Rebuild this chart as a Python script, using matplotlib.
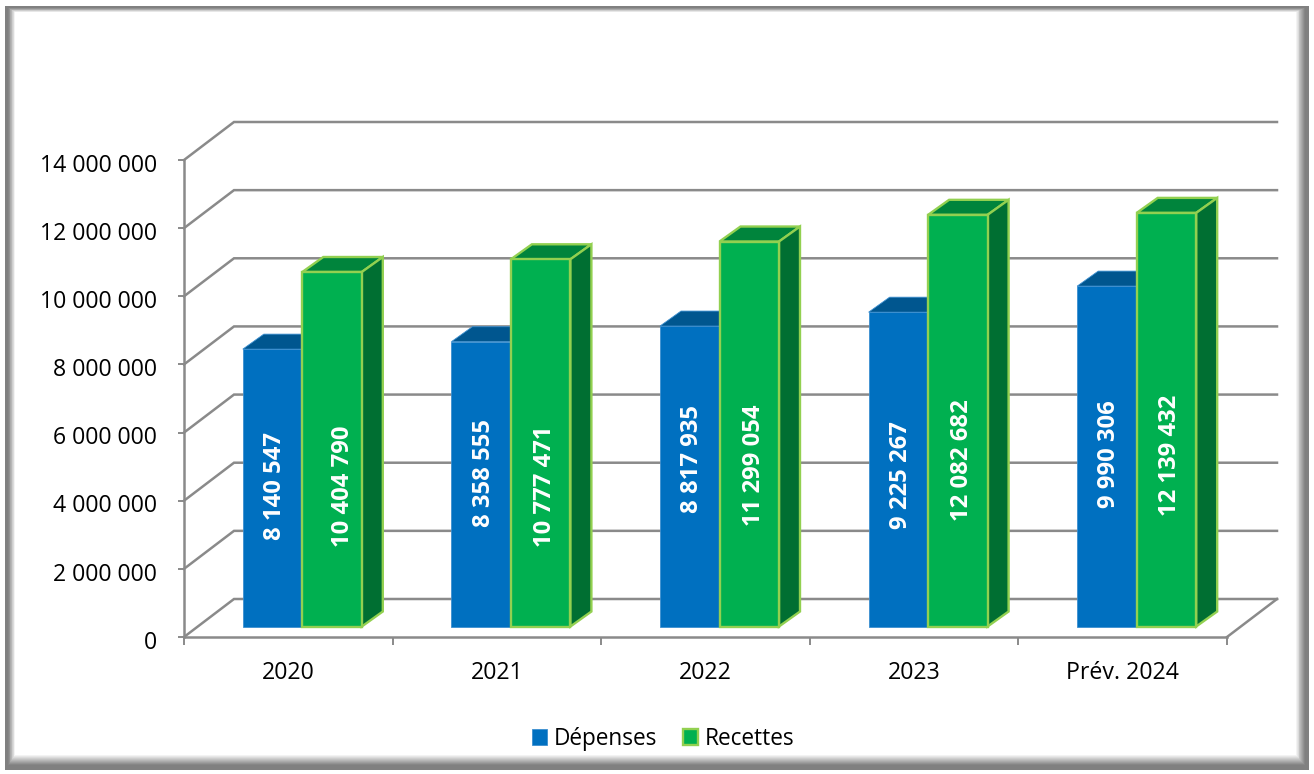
import matplotlib
matplotlib.use("Agg")
import matplotlib.pyplot as plt
from matplotlib.patches import Polygon, Rectangle
from matplotlib.transforms import IdentityTransform, ScaledTranslation

categories = ["2020", "2021", "2022", "2023", "Prév. 2024"]
depenses = [8140547, 8358555, 8817935, 9225267, 9990306]
recettes = [10404790, 10777471, 11299054, 12082682, 12139432]
y_ticks = [0, 2000000, 4000000, 6000000, 8000000, 10000000, 12000000, 14000000]

# where the data labels sit, as a share of the bar height (placed by hand in the original)
dep_label_pos = [0.505, 0.54, 0.557, 0.481, 0.506]
rec_label_pos = [0.395, 0.381, 0.418, 0.405, 0.413]
rec_label_nudge = [8, 2, 2, 2, 1]

W, H = 1314, 774
plt.rcParams["font.family"] = ["Open Sans", "DejaVu Sans"]

# pixel scale of the plot: 0 at y=637, 14M at y=160, categories from x=184 to x=1227
PX_X = (1227 - 184) / 5
PX_Y = (637 - 160) / 14000000
GREY = "#8a8a8a"

fig = plt.figure(figsize=(W / 100, H / 100), dpi=100)
ax = fig.add_axes([0, 0, 1, 1])
ax.set_xlim(-184 / PX_X, (W - 184) / PX_X)
ax.set_ylim(-(H - 637) / PX_Y, 637 / PX_Y)
ax.patch.set_visible(False)

# bevelled frame, outer to inner
steps = 16
for i in range(steps):
    t = i / (steps - 1)
    left = 5 + 10 * t
    right = 1309 - 13 * t
    top = 6 + 6 * t
    bottom = 770 - 15 * t
    g = 0.5 if t < 0.3 else 0.5 + 0.5 * (t - 0.3) / 0.7
    ax.add_patch(Rectangle((left, H - bottom), right - left, bottom - top,
                           transform=IdentityTransform(), facecolor=(g, g, g),
                           edgecolor="none", zorder=0.1))

# depth of the walls and of the bars, in data units
wall_dx, wall_dy = 50 / PX_X, 38 / PX_Y
bar_off_dx, bar_off_dy = 14 / PX_X, 10.5 / PX_Y
bar_dx, bar_dy = 21 / PX_X, 15 / PX_Y
bar_w = 59.5 / PX_X

for v in y_ticks:
    ax.plot([0, wall_dx, 5 + wall_dx], [v, v + wall_dy, v + wall_dy],
            color=GREY, lw=1.8, zorder=1, solid_joinstyle="miter")
ax.plot([5, 5 + wall_dx], [0, wall_dy], color=GREY, lw=1.8, zorder=1)

ax.spines[["top", "right"]].set_visible(False)
for s in ["left", "bottom"]:
    ax.spines[s].set_position(("data", 0))
    ax.spines[s].set_color(GREY)
    ax.spines[s].set_linewidth(1.8)
ax.spines["left"].set_bounds(0, 14000000)
ax.spines["bottom"].set_bounds(0, 5)

ax.set_yticks(y_ticks)
ax.set_yticklabels([f"{v:,}".replace(",", " ") for v in y_ticks])
ax.set_xticks(range(6))
ax.set_xticklabels([])
ax.set_xticks([i + 0.5 for i in range(5)], labels=categories, minor=True)
ax.tick_params(axis="y", length=4.5, width=1.4, color=GREY, pad=15, labelsize=16.6)
ax.tick_params(axis="x", which="major", length=6, width=1.4, color=GREY)
ax.tick_params(axis="x", which="minor", length=0, pad=17, labelsize=16.7)

# the value labels sit a little under their ticks in the original
shift = ScaledTranslation(0, -2 / 72, fig.dpi_scale_trans)
for lab in ax.get_yticklabels():
    lab.set_transform(lab.get_transform() + shift)


def bar3d(x, val, front, top, side, edge, lw, z):
    x0 = x + bar_off_dx
    y0 = bar_off_dy
    y1 = val + bar_off_dy
    x1 = x0 + bar_w
    ax.add_patch(Polygon([(x0, y1), (x1, y1), (x1 + bar_dx, y1 + bar_dy), (x0 + bar_dx, y1 + bar_dy)],
                         facecolor=top, edgecolor=edge, lw=lw, zorder=z))
    ax.add_patch(Polygon([(x1, y0), (x1 + bar_dx, y0 + bar_dy), (x1 + bar_dx, y1 + bar_dy), (x1, y1)],
                         facecolor=side, edgecolor=edge, lw=lw, zorder=z))
    return ax.bar(x0, val, bar_w, bottom=y0, align="edge", color=front, edgecolor=edge,
                  linewidth=lw, zorder=z + 0.1)


for i, cat in enumerate(categories):
    x_mid = i + 0.5
    b1 = bar3d(x_mid - bar_w, depenses[i], "#0070C0", "#00568F", "#004E85", "#3C8FD0", 0.6, 2 + i)
    b2 = bar3d(x_mid, recettes[i], "#00B050", "#00843C", "#006F32", "#92D050", 1.7, 2.5 + i)
    ax.text(x_mid + bar_off_dx - bar_w / 2 + 2.5 / PX_X, bar_off_dy + depenses[i] * dep_label_pos[i],
            f"{depenses[i]:,}".replace(",", " "), rotation=90, ha="center", va="center",
            color="white", fontweight="bold", fontsize=17.2, zorder=20)
    ax.text(x_mid + bar_off_dx + bar_w / 2 + (rec_label_nudge[i] + 2.5) / PX_X,
            bar_off_dy + recettes[i] * rec_label_pos[i],
            f"{recettes[i]:,}".replace(",", " "), rotation=90, ha="center", va="center",
            color="white", fontweight="bold", fontsize=17.2, zorder=20)

ax.legend([b1, b2], ["Dépenses", "Recettes"], ncol=2, frameon=False, fontsize=16.3,
          loc="center", bbox_to_anchor=(663 / W, 1 - 739 / H), handlelength=0.66,
          handleheight=0.66, handletextpad=0.3, columnspacing=1.15, borderpad=0)

fig.savefig("out.png", dpi=100)
